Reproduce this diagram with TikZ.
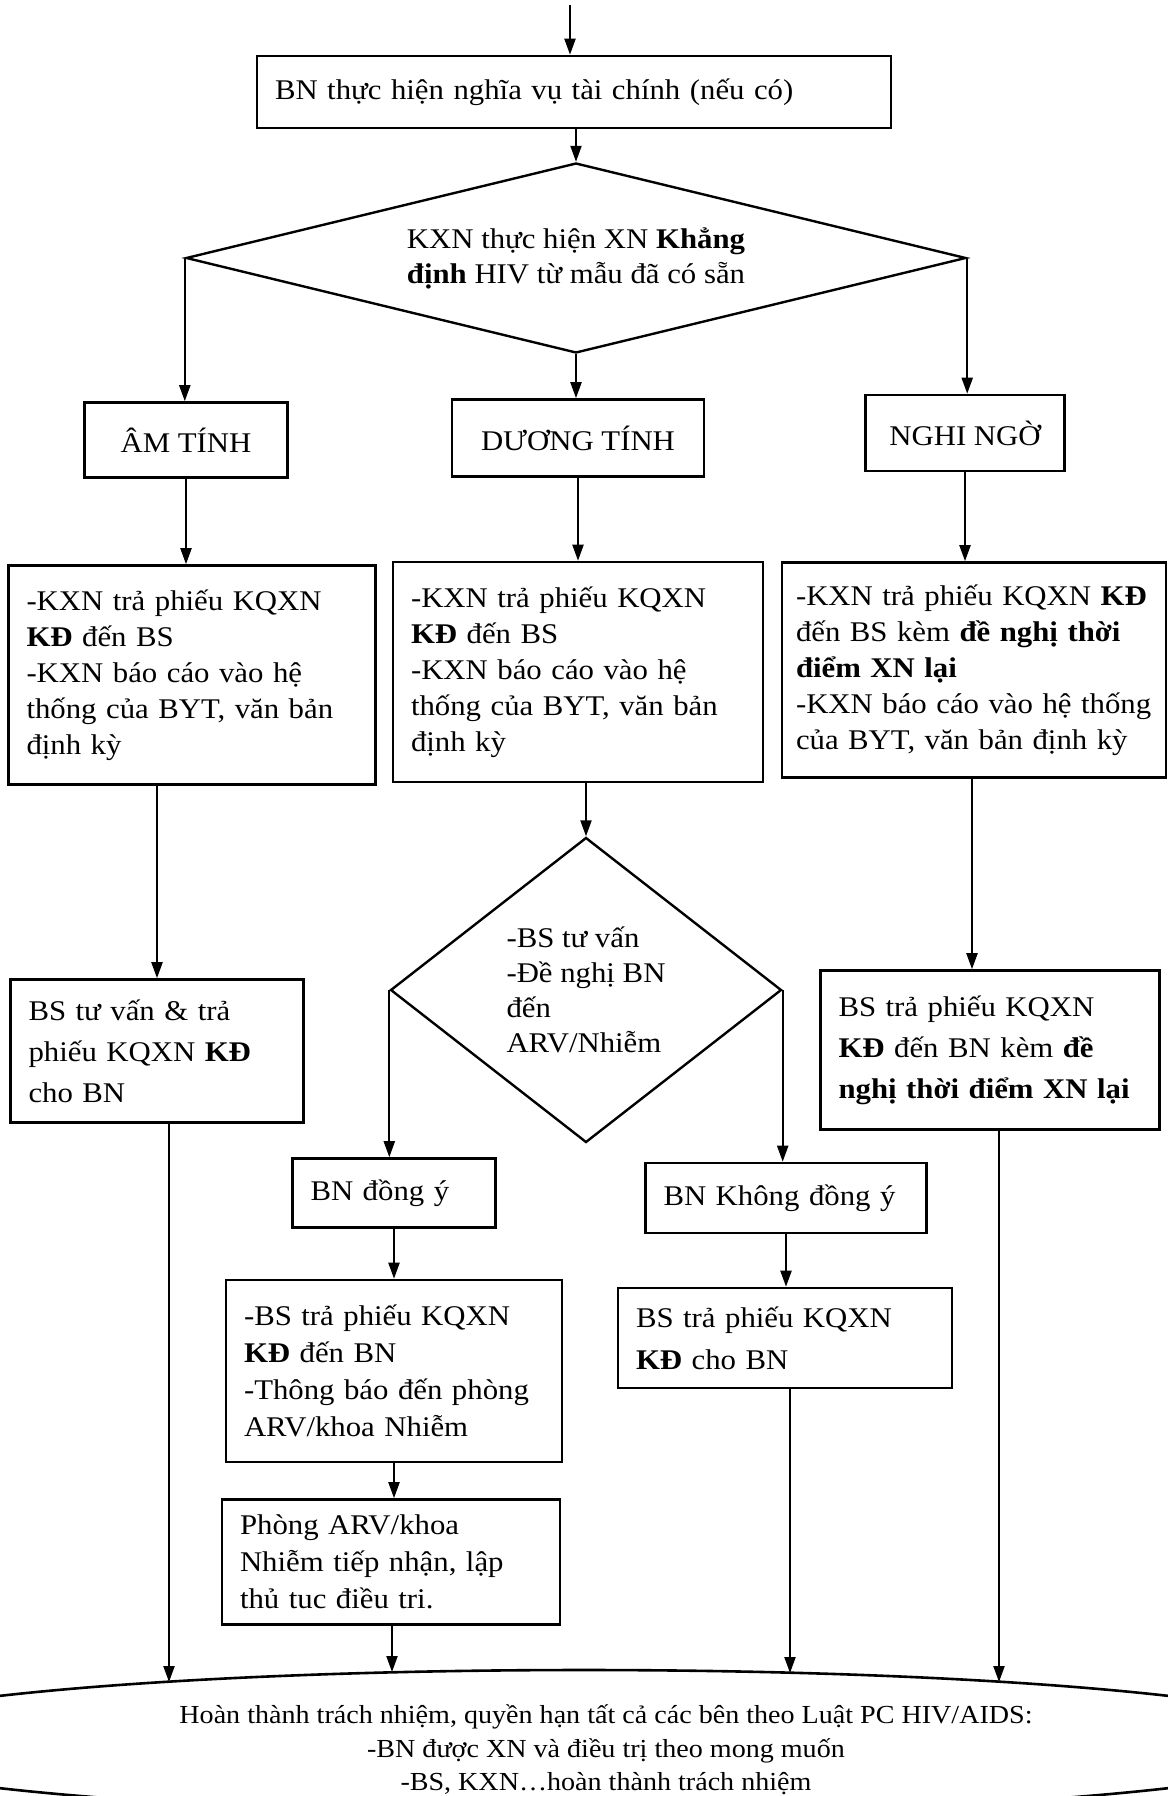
\documentclass[tikz,border=0pt]{standalone}
\usepackage{fontspec}
\setmainfont{Liberation Serif}[FakeStretch=1.08]
\usetikzlibrary{shapes.geometric,arrows.meta}
\newcommand\boxfont[1]{\fontsize{28.5}{#1}\selectfont}
\begin{document}
\begin{tikzpicture}[x=1pt,y=-1pt,
  stepbox/.style={draw=black,line width=2.6pt,rectangle,align=left,inner xsep=18pt,font=\boxfont{36}},
  resbox/.style={draw=black,line width=2.6pt,rectangle,align=center,font=\boxfont{36}},
  choice/.style={draw=black,line width=2.4pt,diamond,align=left,font=\boxfont{35}},
  link/.style={line width=2.1pt,-{Triangle[length=16pt,width=11pt]}}]
\tikzstyle{every node}+=[inner sep=0pt]
\useasboundingbox (0,0) rectangle (1167,1796);
\fill[white] (0,0) rectangle (1167,1796);
\node[stepbox,text width=598pt,minimum height=72pt] (pay) at (574,92) {BN thực hiện nghĩa vụ tài chính (nếu có)};
\node[choice,aspect=4.1,minimum width=780pt,minimum height=190pt] (test) at (576,258) {KXN thực hiện XN \textbf{Khẳng}\\\textbf{định} HIV từ mẫu đã có sẵn};
\node[resbox,minimum width=203pt,minimum height=75pt] (neg) at (186,440) {ÂM TÍNH};
\node[resbox,minimum width=252pt,minimum height=77pt] (pos) at (578,438) {DƯƠNG TÍNH};
\node[resbox,minimum width=199pt,minimum height=76pt] (susp) at (965,433) {NGHI NGỜ};
\node[stepbox,text width=331pt,minimum height=219pt] (negrep) at (192,675) {-KXN trả phiếu KQXN\\\textbf{KĐ} đến BS\\-KXN báo cáo vào hệ\\thống của BYT, văn bản\\định kỳ};
\node[stepbox,text width=334pt,minimum height=220pt] (posrep) at (578,672) {-KXN trả phiếu KQXN\\\textbf{KĐ} đến BS\\-KXN báo cáo vào hệ\\thống của BYT, văn bản\\định kỳ};
\node[stepbox,inner xsep=14pt,text width=356pt,minimum height=215pt] (susprep) at (974,670) {-KXN trả phiếu KQXN \textbf{KĐ}\\đến BS kèm \textbf{đề nghị thời}\\\textbf{điểm XN lại}\\-KXN báo cáo vào hệ thống\\của BYT, văn bản định kỳ};
\node[stepbox,font=\boxfont{41},text width=257pt,minimum height=143pt] (negdoc) at (157,1051) {BS tư vấn \& trả\\phiếu KQXN \textbf{KĐ}\\cho BN};
\node[choice,aspect=1.28,minimum width=391pt,minimum height=305pt] (advise) at (586,990) {-BS tư vấn\\-Đề nghị BN\\đến\\ARV/Nhiễm};
\node[stepbox,font=\boxfont{41},text width=303pt,minimum height=159pt] (suspdoc) at (990,1050) {BS trả phiếu KQXN\\\textbf{KĐ} đến BN kèm \textbf{đề}\\\textbf{nghị thời điểm XN lại}};
\node[stepbox,text width=167pt,minimum height=69pt] (agree) at (394,1193) {BN đồng ý};
\node[stepbox,text width=245pt,minimum height=70pt] (refuse) at (786,1198) {BN Không đồng ý};
\node[stepbox,font=\boxfont{37},text width=300pt,minimum height=182pt] (notify) at (394,1371) {-BS trả phiếu KQXN\\\textbf{KĐ} đến BN\\-Thông báo đến phòng\\ARV/khoa Nhiễm};
\node[stepbox,font=\boxfont{37},text width=302pt,minimum height=125pt] (treat) at (391,1562) {Phòng ARV/khoa\\Nhiễm tiếp nhận, lập\\thủ tuc điều tri.};
\node[stepbox,font=\boxfont{42},text width=298pt,minimum height=100pt] (refdoc) at (785,1338) {BS trả phiếu KQXN\\\textbf{KĐ} cho BN};
\node[draw=black,line width=2.6pt,ellipse,minimum width=1522pt,minimum height=144pt] (done) at (584,1742) {};
\node[align=center,font=\fontsize{26}{33.5}\selectfont] (donetext) at (606,1750) {Hoàn thành trách nhiệm, quyền hạn tất cả các bên theo Luật PC HIV/AIDS:\\-BN được XN và điều trị theo mong muốn\\-BS, KXN…hoàn thành trách nhiệm};
\coordinate (start) at (570,5);
\coordinate (inA) at (169,1682);
\coordinate (inB) at (392,1672);
\coordinate (inC) at (790,1673);
\coordinate (inD) at (999,1682);
\draw[link] (start) -- (start |- pay.north);
\draw[link] (pay.south -| test.north) -- (test.north);
\draw[link] (test.west) -- (test.west |- neg.north);
\draw[link] (test.south) -- (test.south |- pos.north);
\draw[link] (test.east) -- (test.east |- susp.north);
\draw[link] (neg.south) -- (neg.south |- negrep.north);
\draw[link] (pos.south) -- (pos.south |- posrep.north);
\draw[link] (susp.south) -- (susp.south |- susprep.north);
\draw[link] (negrep.south -| negdoc.north) -- (negdoc.north);
\draw[link] (posrep.south -| advise.north) -- (advise.north);
\draw[link] ([xshift=-18pt]suspdoc.north |- susprep.south) -- ([xshift=-18pt]suspdoc.north);
\draw[link] (advise.west) -- (advise.west |- agree.north);
\draw[link] (advise.east) -- (advise.east |- refuse.north);
\draw[link] (agree.south) -- (agree.south |- notify.north);
\draw[link] (notify.south) -- (notify.south |- treat.north);
\draw[link] (refuse.south) -- (refuse.south |- refdoc.north);
\draw[link] (negdoc.south -| inA) -- (inA);
\draw[link] (treat.south -| inB) -- (inB);
\draw[link] (refdoc.south -| inC) -- (inC);
\draw[link] (suspdoc.south -| inD) -- (inD);
\end{tikzpicture}
\end{document}
